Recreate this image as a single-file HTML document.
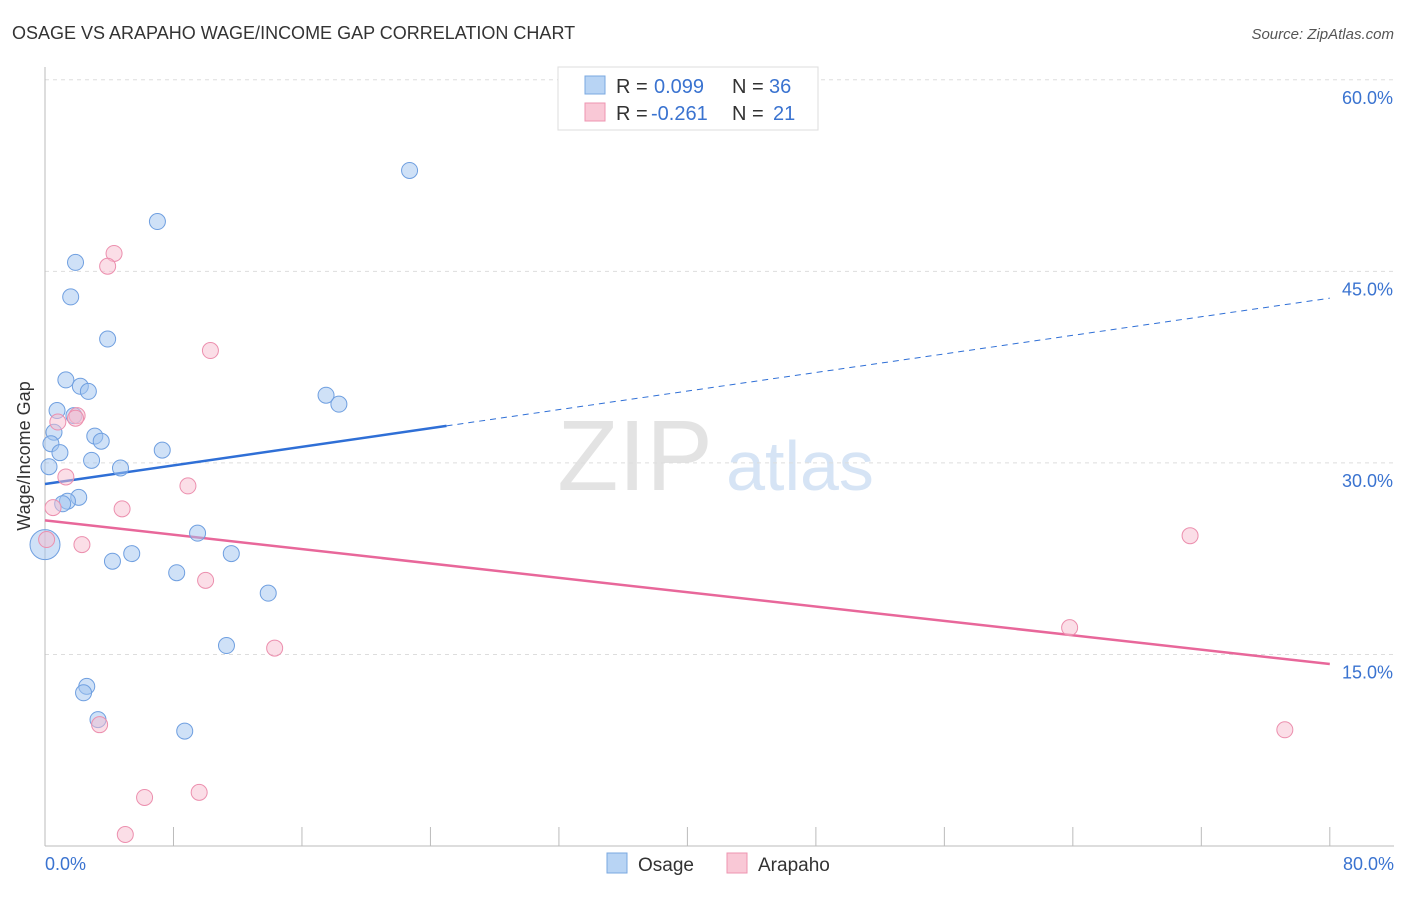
<!DOCTYPE html>
<html><head><meta charset="utf-8"><style>
body{margin:0;background:#fff;font-family:"Liberation Sans",sans-serif;}
svg text{font-family:"Liberation Sans",sans-serif;}
</style></head><body>
<svg id="chart" width="1406" height="892">
<text x="12" y="39" font-size="18" fill="#333">OSAGE VS ARAPAHO WAGE/INCOME GAP CORRELATION CHART</text>
<text x="1394" y="39" font-size="15" fill="#555" font-style="italic" text-anchor="end">Source: ZipAtlas.com</text>
<text x="635" y="490" font-size="100" fill="#e3e3e3" font-family="Liberation Serif" text-anchor="middle">ZIP</text>
<text x="800" y="490" font-size="70" fill="#d6e4f5" text-anchor="middle">atlas</text>
<g id="grid"></g>
<g id="axes"></g>
<text x="30" y="456" font-size="18" fill="#333" transform="rotate(-90 30 456)" text-anchor="middle">Wage/Income Gap</text>
<g id="lines"></g>
<g id="points"></g>
<g>
<rect x="558" y="67" width="260" height="63" fill="#fff" stroke="#ddd"/>
<rect x="585" y="76" width="20" height="18" fill="#b8d4f4" stroke="#7aa8e0"/>
<text x="616" y="93" font-size="20" fill="#333">R =</text>
<text x="654" y="93" font-size="20" fill="#3a73d0">0.099</text>
<text x="732" y="93" font-size="20" fill="#333">N =</text>
<text x="769" y="93" font-size="20" fill="#3a73d0">36</text>
<rect x="585" y="103" width="20" height="18" fill="#f9c8d6" stroke="#ee94b0"/>
<text x="616" y="120" font-size="20" fill="#333">R =</text>
<text x="651" y="120" font-size="20" fill="#3a73d0">-0.261</text>
<text x="732" y="120" font-size="20" fill="#333">N =</text>
<text x="773" y="120" font-size="20" fill="#3a73d0">21</text>
</g>
<g>
<rect x="607" y="853" width="20" height="20" fill="#b8d4f4" stroke="#7aa8e0"/>
<text x="638" y="871" font-size="19" fill="#333">Osage</text>
<rect x="727" y="853" width="20" height="20" fill="#f9c8d6" stroke="#ee94b0"/>
<text x="758" y="871" font-size="19" fill="#333">Arapaho</text>
</g>
</svg>
<script>
const osageX=[22.7,7.0,1.9,1.6,3.9,1.3,2.2,2.7,17.5,18.3,0.75,1.8,0.56,3.1,3.5,0.37,7.3,0.93,2.9,0.25,4.7,2.1,1.4,1.1,0,9.5,5.4,4.2,11.6,8.2,13.9,11.3,2.6,2.4,3.3,8.7];
const osageY=[52.9,48.9,45.7,43.0,39.7,36.5,36.0,35.6,35.3,34.6,34.1,33.7,32.4,32.1,31.7,31.5,31.0,30.8,30.2,29.7,29.6,27.3,27.0,26.8,23.6,24.5,22.9,22.3,22.9,21.4,19.8,15.7,12.5,12.0,9.9,9.0];
const arapahoX=[4.3,3.9,10.3,2.0,1.9,0.8,1.3,8.9,0.5,4.8,2.3,0.1,10.0,14.3,71.3,63.8,3.4,77.2,6.2,9.6,5.0];
const arapahoY=[46.4,45.4,38.8,33.7,33.5,33.2,28.9,28.2,26.5,26.4,23.6,24.0,20.8,15.5,24.3,17.1,9.5,9.1,3.8,4.2,0.9];
const yTicks=[15,30,45,60];
const yTickLabels=["15.0%","30.0%","45.0%","60.0%"];
const osageTrend=[28.35,42.9];
const arapahoTrend=[25.5,14.25];
const NS="http://www.w3.org/2000/svg";
const sx=v=>45+v*16.06, sy=v=>846-v*12.77;
function mk(tag,attrs,parent){const e=document.createElementNS(NS,tag);for(const k in attrs)e.setAttribute(k,attrs[k]);document.getElementById(parent).appendChild(e);return e;}
yTicks.forEach((t,i)=>{
 const g=mk('line',{x1:45,x2:1394,y1:sy(t),y2:sy(t),stroke:'#ddd','stroke-dasharray':'4,4'},'grid');
 
 
 const tx=mk('text',{x:1393,y:sy(t)+24,'font-size':18,fill:'#3a73d0','text-anchor':'end'},'grid');
 tx.textContent=yTickLabels[i];
 
 
});
mk('line',{x1:45,x2:45,y1:67,y2:846,stroke:'#bbb'},'axes');
mk('line',{x1:45,x2:1394,y1:846,y2:846,stroke:'#bbb'},'axes');
for(let i=0;i<=10;i++){mk('line',{x1:sx(i*8),x2:sx(i*8),y1:827,y2:846,stroke:'#bbb'},'axes');}
let t0=mk('text',{x:45,y:870,'font-size':18,fill:'#3a73d0'},'axes');t0.textContent='0.0%';


let t1=mk('text',{x:1394,y:870,'font-size':18,fill:'#3a73d0','text-anchor':'end'},'axes');t1.textContent='80.0%';


const bx=25;const by=osageTrend[0]+(osageTrend[1]-osageTrend[0])*bx/80;
let l1=mk('line',{x1:sx(0),y1:sy(osageTrend[0]),x2:sx(bx),y2:sy(by),stroke:'#2f6fd6','stroke-width':2.5},'lines');


let l2=mk('line',{x1:sx(bx),y1:sy(by),x2:sx(80),y2:sy(osageTrend[1]),stroke:'#2f6fd6','stroke-width':1,'stroke-dasharray':'6,5'},'lines');


let l3=mk('line',{x1:sx(0),y1:sy(arapahoTrend[0]),x2:sx(80),y2:sy(arapahoTrend[1]),stroke:'#e8679a','stroke-width':2.5},'lines');


osageX.forEach((x,i)=>{const c=mk('circle',{cx:sx(x),cy:sy(osageY[i]),r:x===0?15:8,fill:'rgba(160,196,240,0.5)',stroke:'#6f9fe0','stroke-width':1},'points');

});
arapahoX.forEach((x,i)=>{const c=mk('circle',{cx:sx(x),cy:sy(arapahoY[i]),r:8,fill:'rgba(248,190,208,0.5)',stroke:'#ec8fae','stroke-width':1},'points');

});
</script>
</body></html>
